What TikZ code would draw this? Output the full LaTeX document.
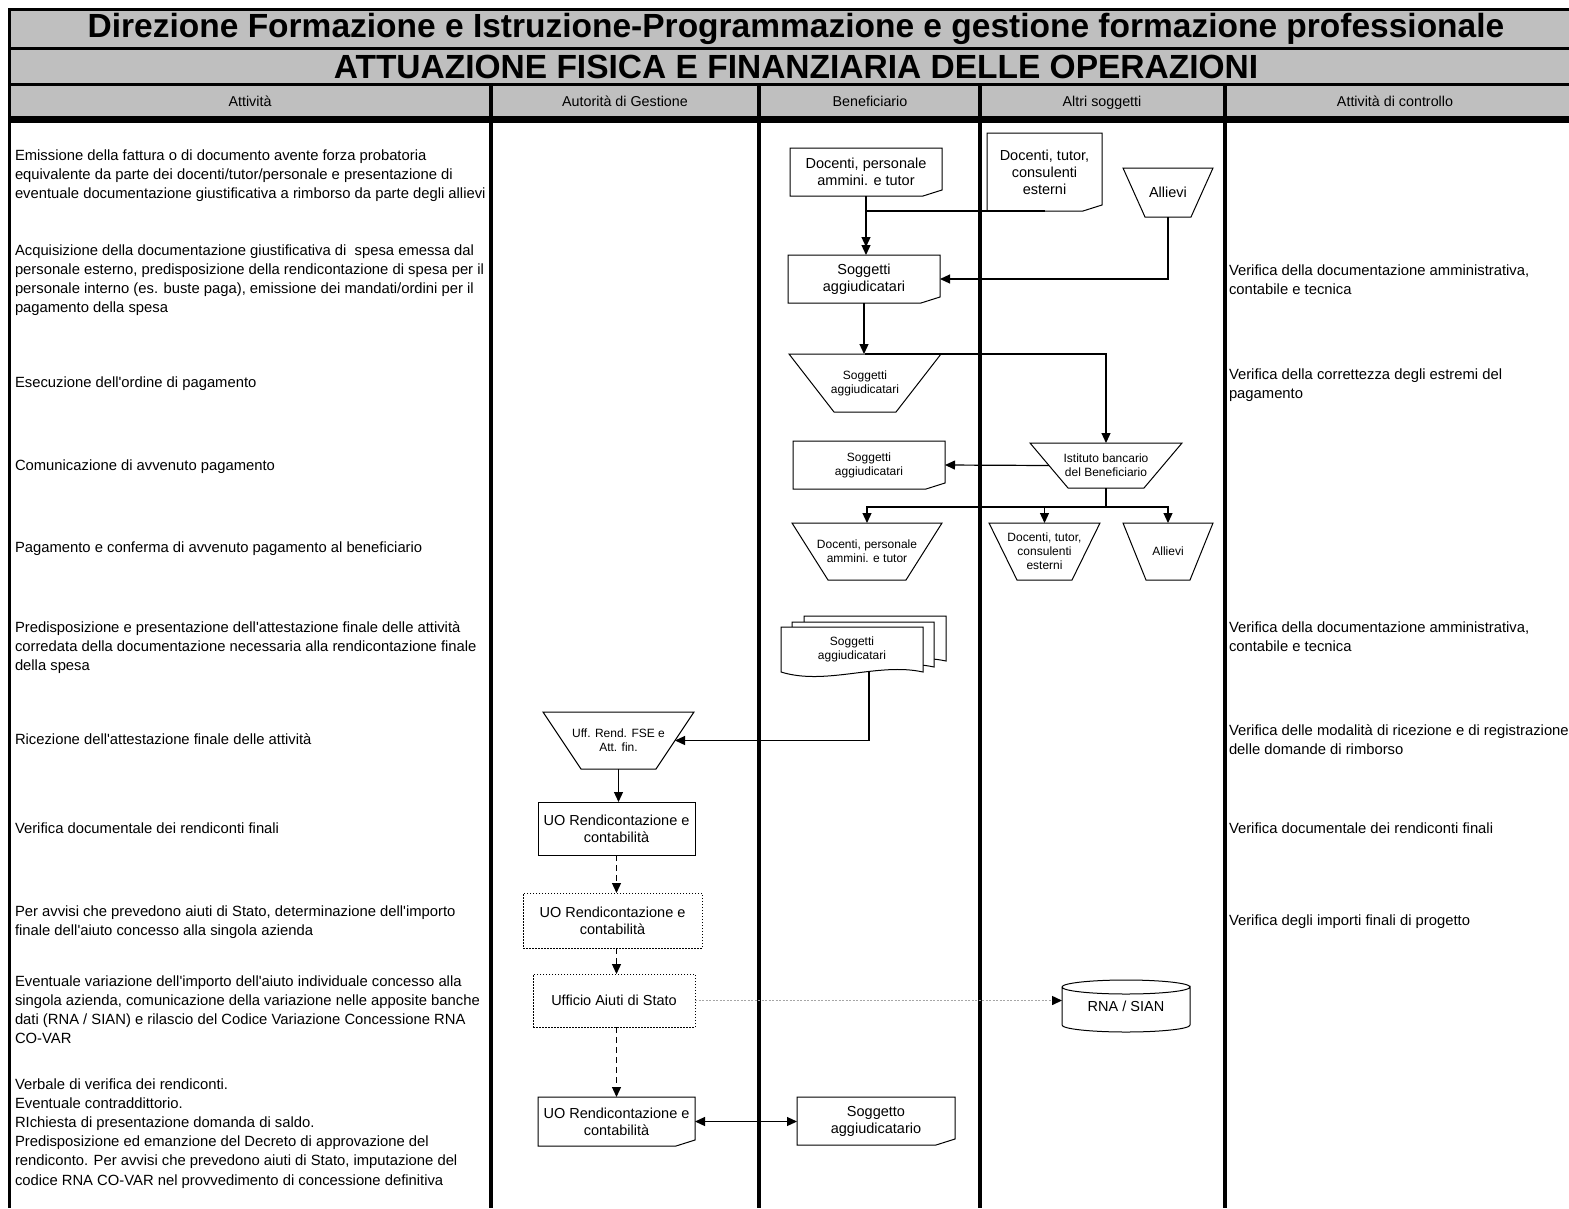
\documentclass[tikz,border=0pt]{standalone}
\usepackage{fontspec}
\setmainfont{Liberation Sans}
\usetikzlibrary{arrows.meta,calc}
\newcommand\mydoc[1]{\draw[shp] (#1.north west) -- (#1.north east) -- ([yshift=6pt]#1.south east) -- ([xshift=-19pt]#1.south east) -- (#1.south west) -- cycle;}
\newcommand\mytrap[2]{\draw[shp] (#1.north west) -- (#1.north east) -- ([xshift=-#2pt]#1.south east) -- ([xshift=#2pt]#1.south west) -- cycle;}
\newcommand\mywave[3]{\draw[shp,fill=white] ([shift={(#2,#3)}]#1.south west) -- ([shift={(#2,#3)}]#1.north west) -- ([shift={(#2,#3)}]#1.north east) -- ([shift={(#2,#3)}]#1.south east) .. controls +(-45pt,10pt) and +(45pt,-14pt) .. ([shift={(#2,#3)}]#1.south west) -- cycle;}
\begin{document}
\begin{tikzpicture}[x=1pt,y=-1pt,
  every node/.style={inner sep=0pt,outer sep=0pt},
  lbl/.style={font=\fontsize{14.8}{19.2}\selectfont,align=left,anchor=base west},
  hdr/.style={font=\fontsize{14.3}{16}\selectfont,anchor=base},
  ttl/.style={font=\fontsize{33.5}{36}\selectfont\bfseries},
  big/.style={font=\fontsize{14.5}{17}\selectfont,align=center},
  small/.style={font=\fontsize{12}{14}\selectfont,align=center},
  shp/.style={line width=1pt,black},
  grid/.style={line width=3pt,black},
  tip/.style={-{Triangle[length=10pt,width=9pt]}},
  conn/.style={line width=1.2pt,tip},
  dconn/.style={line width=1.2pt,tip,dash pattern=on 6pt off 4pt},
  dotbox/.style={draw,line width=0.9pt,dash pattern=on 1.5pt off 1.5pt},
  gconn/.style={line width=1.5pt,gray!70,dash pattern=on 2pt off 1.5pt,-{Triangle[length=10pt,width=9pt,color=black]}}
]
\useasboundingbox (0,0) rectangle (1569,1208);
% ---------- header ----------
\fill[gray!50] (8,9) rectangle (1569,117);
\fill[black] (8,116) rectangle (1569,123);
\draw[grid] (8,9.5) -- (1569,9.5);
\draw[grid] (8,48) -- (1569,48);
\draw[grid] (8,84) -- (1569,84);
\draw[grid] (9.5,8) -- (9.5,1208);
\foreach \cx in {491,759,980,1225} {\draw[line width=3.5pt] (\cx,84) -- (\cx,1208);}
\node[ttl] (title1) at (796,29) {Direzione Formazione e Istruzione-Programmazione e gestione formazione professionale};
\node[ttl] (title2) at (796,67) {ATTUAZIONE FISICA E FINANZIARIA DELLE OPERAZIONI};
\node[hdr] (h1) at (250,106) {Attività};
\node[hdr] (h2) at (625,106) {Autorità di Gestione};
\node[hdr] (h3) at (870,106) {Beneficiario};
\node[hdr] (h4) at (1102,106) {Altri soggetti};
\node[hdr] (h5) at (1395,106) {Attività di controllo};
% ---------- activity texts (base = last line) ----------
\node[lbl] (a1) at (15,{160+2*19.2}) {Emissione della fattura o di documento avente forza probatoria\\equivalente da parte dei docenti/tutor/personale e presentazione di\\eventuale documentazione giustificativa a rimborso da parte degli allievi};
\node[lbl] (a2) at (15,{255+3*19.2}) {Acquisizione della documentazione giustificativa di\ \ spesa emessa dal\\personale esterno, predisposizione della rendicontazione di spesa per il\\personale interno (es. buste paga), emissione dei mandati/ordini per il\\pagamento della spesa};
\node[lbl] (a3) at (15,387) {Esecuzione dell\textquotesingle ordine di pagamento};
\node[lbl] (a4) at (15,470) {Comunicazione di avvenuto pagamento};
\node[lbl] (a5) at (15,552) {Pagamento e conferma di avvenuto pagamento al beneficiario};
\node[lbl] (a6) at (15,{632+2*19.2}) {Predisposizione e presentazione dell\textquotesingle attestazione finale delle attività\\corredata della documentazione necessaria alla rendicontazione finale\\della spesa};
\node[lbl] (a7) at (15,744) {Ricezione dell\textquotesingle attestazione finale delle attività};
\node[lbl] (a8) at (15,833) {Verifica documentale dei rendiconti finali};
\node[lbl] (a9) at (15,{916+19.2}) {Per avvisi che prevedono aiuti di Stato, determinazione dell\textquotesingle importo\\finale dell\textquotesingle aiuto concesso alla singola azienda};
\node[lbl] (a10) at (15,{986+3*19.2}) {Eventuale variazione dell\textquotesingle importo dell\textquotesingle aiuto individuale concesso alla\\singola azienda, comunicazione della variazione nelle apposite banche\\dati (RNA / SIAN) e rilascio del Codice Variazione Concessione RNA\\CO-VAR};
\node[lbl] (a11) at (15,{1089+5*19.2}) {Verbale di verifica dei rendiconti.\\Eventuale contraddittorio.\\RIchiesta di presentazione domanda di saldo.\\Predisposizione ed emanzione del Decreto di approvazione del\\rendiconto. Per avvisi che prevedono aiuti di Stato, imputazione del\\codice RNA CO-VAR nel provvedimento di concessione definitiva};
% ---------- control texts ----------
\node[lbl] (c1) at (1229,{275+19.2}) {Verifica della documentazione amministrativa,\\contabile e tecnica};
\node[lbl] (c2) at (1229,{379+19.2}) {Verifica della correttezza degli estremi del\\pagamento};
\node[lbl] (c3) at (1229,{632+19.2}) {Verifica della documentazione amministrativa,\\contabile e tecnica};
\node[lbl] (c4) at (1229,{735+19.2}) {Verifica delle modalità di ricezione e di registrazione\\delle domande di rimborso};
\node[lbl] (c5) at (1229,833) {Verifica documentale dei rendiconti finali};
\node[lbl] (c6) at (1229,925) {Verifica degli importi finali di progetto};
% ---------- shapes ----------
\node[big,minimum width=152pt,minimum height=48pt] (d1) at (866,172) {Docenti, personale\\ammini. e tutor};
\mydoc{d1}
\node[big,minimum width=115pt,minimum height=78pt] (d2) at (1044.5,172) {Docenti, tutor,\\consulenti\\esterni};
\mydoc{d2}
\node[big,minimum width=90pt,minimum height=49pt] (al1) at (1168,192.5) {Allievi};
\mytrap{al1}{22}
\node[big,minimum width=152pt,minimum height=48pt] (sg1) at (864,279) {Soggetti\\aggiudicatari};
\mydoc{sg1}
\node[small,minimum width=152pt,minimum height=58pt] (sg2) at (865,383) {Soggetti\\aggiudicatari};
\mytrap{sg2}{45}
\node[small,minimum width=152pt,minimum height=45pt] (ist) at (1106,465.5) {Istituto bancario\\del Beneficiario};
\mytrap{ist}{38}
\node[small,minimum width=152pt,minimum height=48pt] (sg3) at (869,465) {Soggetti\\aggiudicatari};
\mydoc{sg3}
\node[small,minimum width=150pt,minimum height=57pt] (t1) at (867,551.5) {Docenti, personale\\ammini. e tutor};
\mytrap{t1}{36}
\node[small,minimum width=111pt,minimum height=57pt] (t2) at (1044.5,551.5) {Docenti, tutor,\\consulenti\\esterni};
\mytrap{t2}{28}
\node[small,minimum width=90pt,minimum height=57pt] (t3) at (1168,551.5) {Allievi};
\mytrap{t3}{23}
\path node[minimum width=142pt,minimum height=45pt] (ms) at (852,649.5) {};
\mywave{ms}{23pt}{11pt}
\mywave{ms}{11pt}{5pt}
\mywave{ms}{0pt}{0pt}
\node[small] (mst) at (ms.center) {Soggetti\\aggiudicatari};
\node[small,minimum width=151pt,minimum height=57pt] (uff) at (618.5,740.5) {Uff. Rend. FSE e\\Att. fin.};
\mytrap{uff}{38}
\node[big,draw,line width=1pt,minimum width=157pt,minimum height=53pt] (uo1) at (616.5,828.5) {UO Rendicontazione e\\contabilità};
\node[big,dotbox,minimum width=179pt,minimum height=55pt] (uo2) at (612.5,920.5) {UO Rendicontazione e\\contabilità};
\node[big,dotbox,minimum width=162pt,minimum height=53pt] (ua) at (614,1000.5) {Ufficio Aiuti di Stato};
\node[big,minimum width=157pt,minimum height=49pt] (uo3) at (616.5,1121.5) {UO Rendicontazione e\\contabilità};
\mydoc{uo3}
\node[big,minimum width=158pt,minimum height=48pt] (sa) at (876,1121) {Soggetto\\aggiudicatario};
\mydoc{sa}
\node[big,minimum width=128pt,minimum height=52pt] (rna) at (1126,1006) {RNA / SIAN};
\draw[shp] ([yshift=-7pt]rna.north west) -- ([yshift=7pt]rna.south west) arc[start angle=180,end angle=360,x radius=64pt,y radius=7pt] -- ([yshift=-7pt]rna.north east) arc[start angle=0,end angle=-180,x radius=64pt,y radius=7pt] arc[start angle=180,end angle=0,x radius=64pt,y radius=7pt];
% ---------- connectors ----------
\draw[conn] (d1.south) -- (d1.south |- sg1.north);
\draw[conn] (d2.south) -| ([yshift=8pt]d1.south |- sg1.north);
\draw[conn] (al1.south) |- (sg1.east);
\draw[conn] (sg1.south) -- (sg1.south |- sg2.north);
\draw[conn] (sg2.north) -| (ist.north);
\draw[conn] ([xshift=19pt]ist.west) -- (sg3.east);
\coordinate (br) at ($(ist.south)+(0,19)$);
\draw[line width=1.2pt] (ist.south) -- (br);
\draw[conn] (br) -| (t1.north);
\draw[conn] (br) -| (t2.north);
\draw[conn] (br) -| (t3.north);
\draw[conn] (ms.south -| sg3.south) |- ([xshift=-19pt]uff.east);
\draw[conn] (uff.south) -- (uff.south |- uo1.north);
\draw[dconn] (uo1.south) -- (uo1.south |- uo2.north);
\draw[dconn] (uo2.south -| uo1.south) -- (uo1.south |- ua.north);
\draw[dconn] (ua.south -| uo1.south) -- (uo1.south |- uo3.north);
\draw[line width=1.2pt,{Triangle[length=10pt,width=9pt]}-{Triangle[length=10pt,width=9pt]}] (uo3.east) -- (uo3.east -| sa.west);
\draw[gconn] (ua.east) -- (ua.east -| rna.west);
\end{tikzpicture}
\end{document}
